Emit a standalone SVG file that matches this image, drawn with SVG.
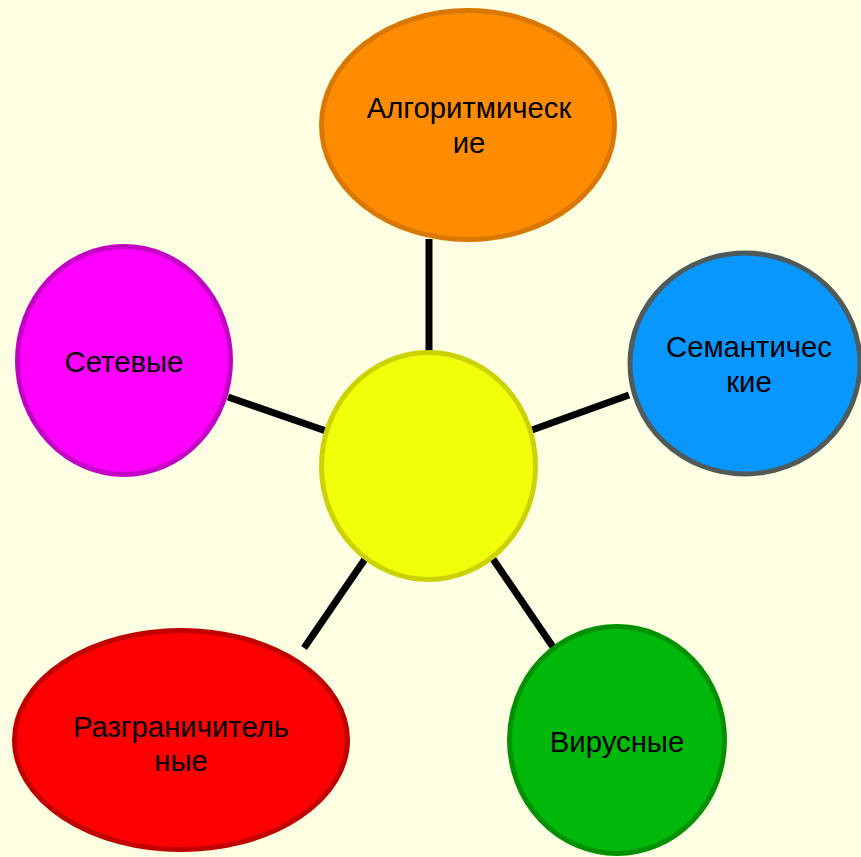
<svg xmlns="http://www.w3.org/2000/svg" width="861" height="857" viewBox="0 0 861 857">
<style>
.lbl{font-family:"Liberation Sans",Arial,sans-serif;font-size:29.3px;fill:#000;text-anchor:middle}
.node{stroke-width:5}
.conn line{stroke:#000;stroke-width:7}
</style>
<rect x="0" y="0" width="861" height="857" fill="#FEFEE2"/>
<g id="connectors" class="conn">
<line x1="429" y1="239" x2="429" y2="352"/>
<line x1="228" y1="397" x2="326" y2="431"/>
<line x1="532" y1="430" x2="629" y2="395"/>
<line x1="365" y1="559" x2="304" y2="648"/>
<line x1="493" y1="559" x2="553" y2="647"/>
</g>
<g id="node-center">
<ellipse class="node" cx="428.5" cy="466" rx="107" ry="113.5" fill="#F0FF0A" stroke="#CCD200"/>
</g>
<g id="node-algorithmic">
<ellipse class="node" cx="468" cy="125" rx="146.5" ry="114.5" fill="#FF8C00" stroke="#D97800"/>
<text class="lbl" x="469" y="118">Алгоритмическ</text>
<text class="lbl" x="469" y="153">ие</text>
</g>
<g id="node-semantic">
<ellipse class="node" cx="745" cy="363.5" rx="115" ry="110.5" fill="#0896FF" stroke="#4F5B5B" stroke-width="6"/>
<text class="lbl" x="749" y="357">Семантичес</text>
<text class="lbl" x="749" y="392">кие</text>
</g>
<g id="node-network">
<ellipse class="node" cx="124" cy="360.5" rx="106.5" ry="114" fill="#FF00FF" stroke="#C400C4"/>
<text class="lbl" x="124" y="372">Сетевые</text>
</g>
<g id="node-delimiting">
<ellipse class="node" cx="181" cy="740" rx="166.5" ry="109.5" fill="#FF0000" stroke="#C00000"/>
<text class="lbl" x="181" y="737">Разграничитель</text>
<text class="lbl" x="181" y="771">ные</text>
</g>
<g id="node-viral">
<ellipse class="node" cx="617" cy="740" rx="107.5" ry="113.5" fill="#00B80A" stroke="#009000"/>
<text class="lbl" x="617" y="752">Вирусные</text>
</g>
</svg>
